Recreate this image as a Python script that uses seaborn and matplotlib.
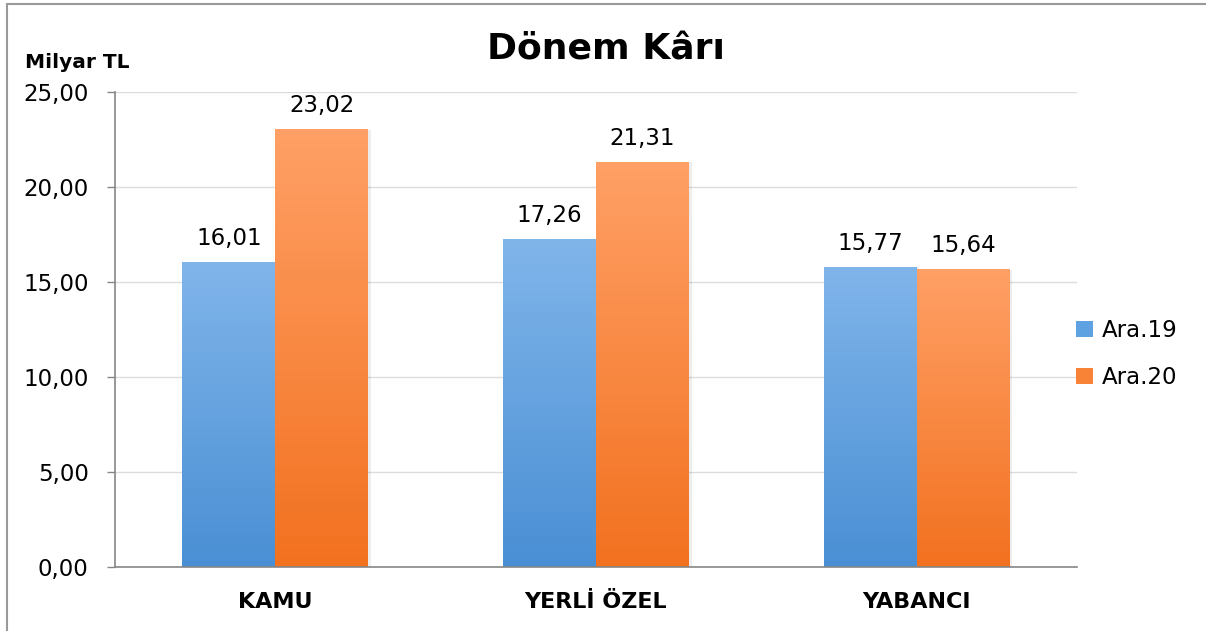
import numpy as np
import pandas as pd
import matplotlib
matplotlib.use('Agg')
import matplotlib.pyplot as plt
import seaborn as sns
from matplotlib.colors import LinearSegmentedColormap
from matplotlib.patches import Patch, Rectangle

categories = ['KAMU', 'YERLİ ÖZEL', 'YABANCI']
series_names = ['Ara.19', 'Ara.20']
ara19 = [16.01, 17.26, 15.77]
ara20 = [23.02, 21.31, 15.64]
y_ticks = [0, 5, 10, 15, 20, 25]

# gradient colours (top, bottom) per series
grad = {'Ara.19': ('#80B5EA', '#4A8FD4'),
        'Ara.20': ('#FFA066', '#F2711F')}
mid = {'Ara.19': '#5EA2E2', 'Ara.20': '#F88236'}

df = pd.DataFrame({
    'kategori': categories * 2,
    'donem': [series_names[0]] * 3 + [series_names[1]] * 3,
    'deger': ara19 + ara20,
})

sns.set_style('white')
plt.rcParams['font.family'] = ['DejaVu Sans']
plt.rcParams['text.color'] = 'black'
plt.rcParams['xtick.color'] = 'black'
plt.rcParams['ytick.color'] = 'black'

fig = plt.figure(figsize=(12.06, 6.31), dpi=100)
ax = fig.add_axes([115 / 1206, 1 - 567 / 631, (1077 - 115) / 1206, (567 - 92) / 631])

sns.barplot(data=df, x='kategori', y='deger', hue='donem', order=categories,
            hue_order=series_names, palette=mid, width=0.58, gap=0,
            errorbar=None, ax=ax, legend=False, linewidth=0)

# gradient fill for each bar
for cont, name in zip(ax.containers, series_names):
    cmap = LinearSegmentedColormap.from_list(name, [grad[name][1], grad[name][0]])
    for bar in cont:
        x0, y0 = bar.get_x(), bar.get_y()
        w, h = bar.get_width(), bar.get_height()
        # soft shadow on right
        ax.add_patch(Rectangle((x0 + 0.008, y0), w, h, color='#000000', alpha=0.07,
                               lw=0, zorder=1.5))
        ax.imshow(np.linspace(0, 1, 256).reshape(-1, 1), cmap=cmap, aspect='auto',
                  origin='lower', extent=[x0, x0 + w, y0, y0 + h], zorder=2)
        bar.set_facecolor('none')
    labels = [f'{v:.2f}'.replace('.', ',') for v in (ara19 if name == 'Ara.19' else ara20)]
    ax.bar_label(cont, labels=labels, padding=9, fontsize=16.5, color='black')

ax.set_aspect('auto')
ax.set_xlim(-0.5, 2.5)
ax.set_ylim(0, 25)

ax.set_yticks(y_ticks)
ax.set_yticklabels([f'{t:.2f}'.replace('.', ',') for t in y_ticks], fontsize=16.5)
ax.tick_params(axis='y', length=6, width=1, color='#868686', pad=13, left=True)
ax.tick_params(axis='x', length=0, pad=18)
for lbl in ax.get_xticklabels():
    lbl.set_fontweight('bold')
    lbl.set_fontsize(16)
ax.grid(axis='y', color='#DCDCDC', linewidth=1)
ax.set_axisbelow(True)
ax.set_xlabel('')
ax.set_ylabel('')
for s in ['top', 'right']:
    ax.spines[s].set_visible(False)
ax.spines['left'].set_color('#868686')
ax.spines['bottom'].set_color('#868686')
ax.spines['left'].set_linewidth(1.2)
ax.spines['bottom'].set_linewidth(1.2)

fig.text(606 / 1206, 1 - 50 / 631, 'Dönem Kârı', ha='center', va='center',
         fontsize=26, fontweight='bold')
fig.text(25 / 1206, 1 - 62 / 631, 'Milyar TL', ha='left', va='center',
         fontsize=14.5, fontweight='bold')

handles = [Patch(facecolor=mid[n], edgecolor='none') for n in series_names]
fig.legend(handles, series_names, loc='center left',
           bbox_to_anchor=(1055 / 1206, 1 - 354 / 631), frameon=False,
           fontsize=16.5, handlelength=0.75, handleheight=0.75, handletextpad=0.4,
           labelspacing=1.05)

fig.add_artist(Rectangle((7 / 1206, -0.05), 1.2, 1 - 4 / 631 + 0.05,
                         transform=fig.transFigure, fill=False,
                         edgecolor='#9A9A9A', linewidth=1.5))

fig.savefig('out.png', dpi=100)
